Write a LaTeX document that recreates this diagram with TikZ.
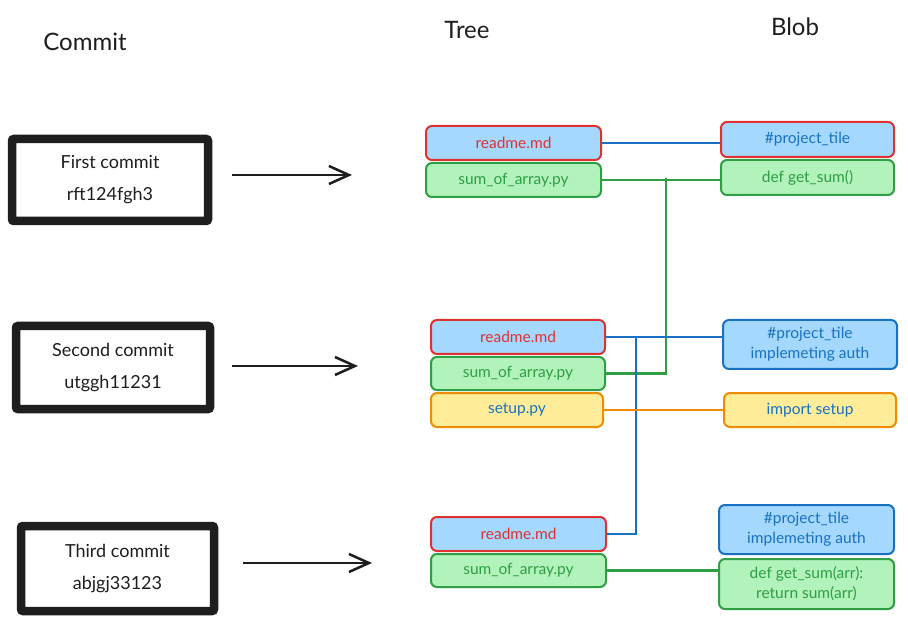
\documentclass[tikz,border=0pt]{standalone}
\usepackage{fontspec}
\setmainfont{Lato}
\usepackage{tikz}
\usetikzlibrary{arrows.meta}
\usetikzlibrary{positioning}

\definecolor{ink}{HTML}{1E1E1E}
\definecolor{xred}{HTML}{E03131}
\definecolor{xblue}{HTML}{1971C2}
\definecolor{xgreen}{HTML}{2F9E44}
\definecolor{xorange}{HTML}{F08C00}
\definecolor{fillblue}{HTML}{A5D8FF}
\definecolor{fillgreen}{HTML}{B2F2BB}
\definecolor{fillyellow}{HTML}{FFEC99}

\tikzstyle{heading} = [text=ink, font=\fontsize{24}{28}\selectfont]
\tikzstyle{commitbox} = [draw=ink, line width=8.5pt, rounded corners=2pt, inner sep=0pt, align=center, text=ink, font=\fontsize{18}{32}\selectfont]
\tikzstyle{filebox} = [rounded corners=6pt, line width=2pt, inner sep=0pt, align=center, font=\fontsize{15.5}{20}\selectfont]
\tikzstyle{readmebox} = [filebox, draw=xred, fill=fillblue, text=xred]
\tikzstyle{sumbox} = [filebox, draw=xgreen, fill=fillgreen, text=xgreen]
\tikzstyle{setupbox} = [filebox, draw=xorange, fill=fillyellow, text=xblue]
\tikzstyle{tagbox} = [filebox, draw=xred, fill=fillblue, text=xblue]
\tikzstyle{authbox} = [filebox, draw=xblue, fill=fillblue, text=xblue]
\tikzstyle{commitarrow} = [-{Straight Barb[length=20pt, width=18pt]}, draw=ink, line width=2.5pt]
\tikzstyle{link} = [-, line width=2.5pt]

\begin{document}
\begin{tikzpicture}[x=1pt, y=-1pt]
\useasboundingbox [fill=white] (0, 0) rectangle (908, 628);

% column titles
\node [heading] (hcommit) at (85, 42) {Commit};
\node [heading] (htree) at (467, 30) {Tree};
\node [heading] (hblob) at (795, 27) {Blob};

% commits
\node [commitbox, minimum width=196pt, minimum height=82pt] (c1) at (110, 180) {First commit\\rft124fgh3};
\node [commitbox, minimum width=194pt, minimum height=83pt] (c2) at (113, 367.5) {Second commit\\utggh11231};
\node [commitbox, minimum width=193pt, minimum height=85pt] (c3) at (117.5, 568.5) {Third commit\\abjgj33123};

\coordinate (t1) at (352, 175);
\coordinate (t2) at (358, 366);
\coordinate (t3) at (372, 563);
\draw [commitarrow, shorten <= 20pt] (c1.east |- t1) to (t1);
\draw [commitarrow, shorten <= 18pt] (c2.east |- t2) to (t2);
\draw [commitarrow, shorten <= 25pt] (c3.east |- t3) to (t3);

% trees
\node [readmebox, minimum width=175pt, minimum height=34pt] (r1) at (513.5, 143) {readme.md};
\node [sumbox, minimum width=175pt, minimum height=34pt] (s1) at (513.5, 180) {sum\_of\_array.py};
\node [readmebox, minimum width=174pt, minimum height=34pt] (r2) at (518, 337) {readme.md};
\node [sumbox, minimum width=174pt, minimum height=33pt] (s2) at (518, 373.5) {sum\_of\_array.py};
\node [setupbox, minimum width=172pt, minimum height=34pt] (su) at (517, 410) {setup.py};
\node [readmebox, minimum width=175pt, minimum height=34pt] (r3) at (518.5, 534) {readme.md};
\node [sumbox, minimum width=175pt, minimum height=33pt] (s3) at (518.5, 570.5) {sum\_of\_array.py};

% blobs
\node [tagbox, minimum width=173pt, minimum height=35pt] (b1) at (807.5, 139.5) {\#project\_tile};
\node [sumbox, minimum width=173pt, minimum height=35pt] (g1) at (807.5, 177.5) {def get\_sum()};
\node [authbox, minimum width=174pt, minimum height=49pt] (b2) at (810, 344.5) {\#project\_tile\\implemeting auth};
\node [setupbox, minimum width=172pt, minimum height=34pt] (im) at (810, 410) {import setup};
\node [authbox, minimum width=175pt, minimum height=49pt] (b3) at (806.5, 529.5) {\#project\_tile\\implemeting auth};
\node [sumbox, minimum width=175pt, minimum height=50pt] (g2) at (806.5, 584) {def get\_sum(arr):\\return sum(arr)};

% links
\coordinate (gjoin) at (666, 178);
\coordinate (bjoin) at (636, 338);
\draw [link, draw=xblue] (r1.east) to (r1.east -| b1.west);
\draw [link, draw=xgreen] (s1.east) to (s1.east -| g1.west);
\draw [link, draw=xgreen] (s2.east) -| (gjoin);
\draw [link, draw=xblue] (r2.east) to (r2.east -| b2.west);
\draw [link, draw=xblue] (r3.east) -| (bjoin);
\draw [link, draw=xorange] (su.east) to (im.west);
\draw [link, draw=xgreen] (s3.east) to (s3.east -| g2.west);
\end{tikzpicture}
\end{document}
